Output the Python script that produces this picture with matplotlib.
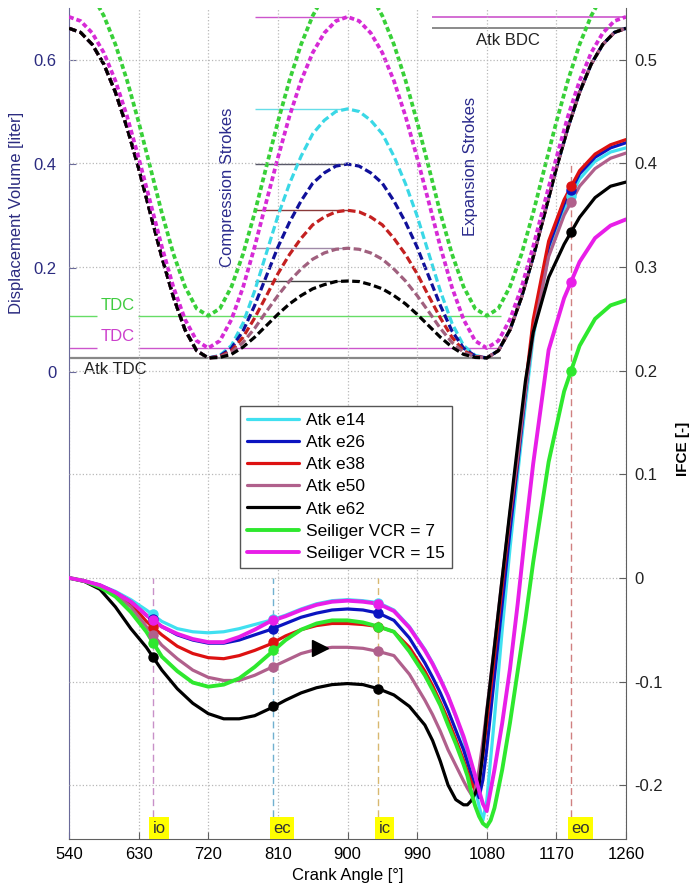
import matplotlib
matplotlib.use("Agg")
import matplotlib.pyplot as plt
from matplotlib.transforms import blended_transform_factory

plt.rcParams['font.family'] = ['Liberation Sans', 'DejaVu Sans']
plt.rcParams['axes.unicode_minus'] = False

# ---------------- displacement volume (left axis, liter) ----------------
vol_angle = [540, 555, 570, 585, 600, 615, 630, 645, 660, 675, 690, 705, 720,
             735, 750, 765, 780, 795, 810, 825, 840, 855, 870, 885, 900,
             915, 930, 945, 960, 975, 990, 1005, 1020, 1035, 1050, 1065, 1080,
             1095, 1110, 1125, 1140, 1155, 1170, 1185, 1200, 1215, 1230, 1245, 1260]
vol_atk_exhaust = [0.661, 0.653, 0.630, 0.592, 0.538, 0.470, 0.392, 0.306, 0.221, 0.144, 0.081, 0.041, 0.027]
vol_atk_expansion = [0.041, 0.081, 0.144, 0.221, 0.306, 0.392, 0.470, 0.538, 0.592, 0.630, 0.653, 0.661]
vol_e14_mid = [0.032, 0.051, 0.094, 0.156, 0.228, 0.300, 0.362, 0.415, 0.458, 0.484, 0.501, 0.506,
               0.501, 0.484, 0.458, 0.415, 0.362, 0.300, 0.228, 0.156, 0.094, 0.051, 0.032, 0.027]
vol_e26_mid = [0.031, 0.046, 0.079, 0.128, 0.184, 0.240, 0.288, 0.329, 0.363, 0.383, 0.396, 0.400,
               0.396, 0.383, 0.363, 0.329, 0.288, 0.240, 0.184, 0.128, 0.079, 0.046, 0.031, 0.027]
vol_e38_mid = [0.030, 0.041, 0.067, 0.104, 0.146, 0.189, 0.226, 0.257, 0.283, 0.298, 0.308, 0.311,
               0.308, 0.298, 0.283, 0.257, 0.226, 0.189, 0.146, 0.104, 0.067, 0.041, 0.030, 0.027]
vol_e50_mid = [0.029, 0.038, 0.057, 0.084, 0.116, 0.147, 0.175, 0.198, 0.217, 0.229, 0.236, 0.238,
               0.236, 0.229, 0.217, 0.198, 0.175, 0.147, 0.116, 0.084, 0.057, 0.038, 0.029, 0.027]
vol_e62_mid = [0.028, 0.034, 0.048, 0.067, 0.089, 0.111, 0.131, 0.147, 0.160, 0.168, 0.174, 0.175,
               0.174, 0.168, 0.160, 0.147, 0.131, 0.111, 0.089, 0.067, 0.048, 0.034, 0.028, 0.027]
vol_vcr7 = [0.756, 0.748, 0.725, 0.685, 0.630, 0.561, 0.481, 0.394, 0.306, 0.227, 0.164, 0.122, 0.108,
            0.122, 0.164, 0.227, 0.306, 0.394, 0.481, 0.561, 0.630, 0.685, 0.725, 0.748, 0.756,
            0.748, 0.725, 0.685, 0.630, 0.561, 0.481, 0.394, 0.306, 0.227, 0.164, 0.122, 0.108,
            0.122, 0.164, 0.227, 0.306, 0.394, 0.481, 0.561, 0.630, 0.685, 0.725, 0.748, 0.756]
vol_vcr15 = [0.683, 0.675, 0.652, 0.614, 0.560, 0.492, 0.412, 0.327, 0.241, 0.163, 0.101, 0.060, 0.046,
             0.060, 0.101, 0.163, 0.241, 0.327, 0.412, 0.492, 0.560, 0.614, 0.652, 0.675, 0.683,
             0.675, 0.652, 0.614, 0.560, 0.492, 0.412, 0.327, 0.241, 0.163, 0.101, 0.060, 0.046,
             0.060, 0.101, 0.163, 0.241, 0.327, 0.412, 0.492, 0.560, 0.614, 0.652, 0.675, 0.683]

peak_levels = [0.683, 0.506, 0.400, 0.311, 0.238, 0.175]
bdc_levels = [0.683, 0.661]
tdc_levels = [0.108, 0.046, 0.027]

# ---------------- IFCE (right axis) ----------------
ifce_angle = [540, 560, 580, 600, 620, 640, 660, 680, 700, 720, 740, 760, 780, 800, 820, 840,
              860, 880, 900, 920, 940, 960, 980, 1000, 1010, 1020, 1030, 1040, 1050,
              1055, 1060, 1065, 1070, 1075, 1080, 1085, 1090, 1100, 1110, 1120, 1130, 1140,
              1160, 1180, 1200, 1220, 1240, 1260]
ifce_e14 = [0, -0.003, -0.007, -0.013, -0.021, -0.031, -0.042, -0.049, -0.052, -0.053, -0.052, -0.049,
            -0.045, -0.041, -0.036, -0.030, -0.025, -0.022, -0.021, -0.022, -0.024, -0.031, -0.047, -0.069,
            -0.082, -0.097, -0.114, -0.134, -0.156,
            -0.170, -0.186, -0.203, -0.220, -0.234, -0.215, -0.175, -0.135,
            -0.050, 0.028, 0.100, 0.168, 0.232,
            0.312, 0.356, 0.385, 0.402, 0.411, 0.415]
ifce_e26 = [0, -0.003, -0.007, -0.014, -0.023, -0.036, -0.047, -0.055, -0.060, -0.063, -0.063, -0.060,
            -0.055, -0.050, -0.044, -0.038, -0.034, -0.031, -0.030, -0.031, -0.034, -0.041, -0.058, -0.082,
            -0.096, -0.111, -0.128, -0.147, -0.166,
            -0.178, -0.190, -0.202, -0.212, -0.195, -0.165, -0.130, -0.095,
            -0.025, 0.045, 0.110, 0.178, 0.243,
            0.320, 0.361, 0.390, 0.406, 0.415, 0.420]
ifce_e38 = [0, -0.003, -0.008, -0.015, -0.025, -0.042, -0.055, -0.066, -0.073, -0.077, -0.078, -0.075,
            -0.070, -0.064, -0.056, -0.050, -0.046, -0.044, -0.044, -0.045, -0.047, -0.052, -0.067, -0.090,
            -0.104, -0.120, -0.137, -0.156, -0.176,
            -0.187, -0.197, -0.205, -0.195, -0.170, -0.140, -0.108, -0.075,
            -0.008, 0.058, 0.115, 0.185, 0.249,
            0.325, 0.365, 0.393, 0.409, 0.418, 0.423]
ifce_e50 = [0, -0.003, -0.009, -0.016, -0.028, -0.047, -0.065, -0.078, -0.089, -0.096, -0.099, -0.099,
            -0.094, -0.087, -0.080, -0.073, -0.069, -0.067, -0.067, -0.068, -0.071, -0.075, -0.093, -0.118,
            -0.132, -0.148, -0.166, -0.181, -0.196,
            -0.203, -0.209, -0.205, -0.185, -0.158, -0.128, -0.097, -0.065,
            0.000, 0.062, 0.118, 0.180, 0.236,
            0.310, 0.350, 0.378, 0.395, 0.405, 0.410]
ifce_e62 = [0, -0.0035, -0.011, -0.028, -0.049, -0.067, -0.089, -0.107, -0.121, -0.131, -0.136, -0.136,
            -0.133, -0.126, -0.118, -0.111, -0.106, -0.103, -0.102, -0.103, -0.107, -0.113, -0.124, -0.142,
            -0.157, -0.177, -0.200, -0.214, -0.219,
            -0.219, -0.215, -0.208, -0.200, -0.168, -0.130, -0.098, -0.066,
            0.000, 0.065, 0.128, 0.190, 0.237,
            0.290, 0.322, 0.348, 0.367, 0.378, 0.382]
ifce_vcr7 = [0, -0.003, -0.009, -0.018, -0.033, -0.052, -0.076, -0.090, -0.101, -0.105, -0.103, -0.097,
             -0.086, -0.073, -0.060, -0.050, -0.044, -0.041, -0.041, -0.043, -0.047, -0.052, -0.071, -0.094,
             -0.108, -0.123, -0.142, -0.160, -0.180,
             -0.191, -0.207, -0.220, -0.230, -0.237, -0.240, -0.234, -0.222,
             -0.185, -0.140, -0.090, -0.040, 0.015,
             0.112, 0.180, 0.224, 0.250, 0.263, 0.268]
ifce_vcr15 = [0, -0.003, -0.007, -0.014, -0.023, -0.036, -0.047, -0.054, -0.059, -0.062, -0.062, -0.057,
              -0.050, -0.042, -0.037, -0.031, -0.026, -0.023, -0.022, -0.023, -0.025, -0.032, -0.048, -0.070,
              -0.083, -0.098, -0.114, -0.133, -0.153,
              -0.165, -0.178, -0.191, -0.205, -0.218, -0.225, -0.205, -0.185,
              -0.140, -0.088, -0.025, 0.045, 0.110,
              0.220, 0.270, 0.305, 0.328, 0.340, 0.346]

event_angle = [648, 804, 940, 1189]
event_label = ['io', 'ec', 'ic', 'eo']
event_top = [0.0, 0.0, 0.0, 0.40]
mk_e14 = [-0.035, -0.040, -0.024, 0.369]
mk_e26 = [-0.040, -0.049, -0.034, 0.374]
mk_e38 = [-0.047, -0.062, -0.047, 0.378]
mk_e50 = [-0.055, -0.086, -0.071, 0.363]
mk_e62 = [-0.076, -0.124, -0.107, 0.334]
mk_vcr7 = [-0.063, -0.070, -0.047, 0.200]
mk_vcr15 = [-0.041, -0.041, -0.025, 0.286]
arrow_angle = [865]
arrow_ifce = [-0.068]

series_names = ['Atk e14', 'Atk e26', 'Atk e38', 'Atk e50', 'Atk e62',
                'Seiliger VCR = 7', 'Seiliger VCR = 15']

# ---------------- figure ----------------
fig = plt.figure(figsize=(6.97, 8.88), dpi=100)
ax = fig.add_axes([69/697, 49/888, 557/697, 831/888])
ax2 = ax.twinx()
ax.set_xlim(540, 1260)
ax.set_ylim(-0.898, 0.700)
ax2.set_ylim(-0.252, 0.550)

dash_col = ['#3ad8e6', '#10109a', '#c42020', '#a0607e', '#000000', '#38d038', '#d62ad6']
sol_col = ['#40e0f0', '#0b14c0', '#dd1111', '#b0608c', '#000000', '#2ee82e', '#e81ee8']

vol_series = [vol_atk_exhaust + vol_e14_mid + vol_atk_expansion,
              vol_atk_exhaust + vol_e26_mid + vol_atk_expansion,
              vol_atk_exhaust + vol_e38_mid + vol_atk_expansion,
              vol_atk_exhaust + vol_e50_mid + vol_atk_expansion,
              vol_atk_exhaust + vol_e62_mid + vol_atk_expansion,
              vol_vcr7, vol_vcr15]

# reference lines
peak_cols = ['#cc55cc', '#66dde8', '#555566', '#8a3a3a', '#a08aa8', '#444444']
for lv, c in zip(peak_levels, peak_cols):
    ax.hlines(lv, 780, 900, colors=c, lw=1.0, zorder=1)
for lv, c in zip(bdc_levels, ['#cc55cc', '#777777']):
    ax.hlines(lv, 1009, 1260, colors=c, lw=1.2, zorder=1)
for lv, c in zip(tdc_levels[:2], ['#66dd66', '#cc55cc']):
    ax.hlines(lv, 540, 576, colors=c, lw=1.0, zorder=1)
    ax.hlines(lv, 629, 1099, colors=c, lw=1.0, zorder=1)
ax.hlines(tdc_levels[2], 540, 1099, colors='#888888', lw=1.6, zorder=1)

for i, (v, c) in enumerate(zip(vol_series, dash_col)):
    if i < 5:
        ax.plot(vol_angle, v, color=c, lw=2.3, dashes=(2.4, 1.1), zorder=3)
    else:
        ax.plot(vol_angle, v, color=c, lw=2.7, dashes=(1.3, 0.8), zorder=3)

ax.text(745, 0.356, 'Compression Strokes', rotation=90, ha='center', va='center',
        color='#2a2a8c', fontsize=12)
ax.text(1059, 0.396, 'Expansion Strokes', rotation=90, ha='center', va='center',
        color='#2a2a8c', fontsize=12)
ax.text(1107, 0.638, 'Atk BDC', ha='center', va='center', color='#222222', fontsize=12)
ax.text(603, 0.128, 'TDC', ha='center', va='center', color='#40cc40', fontsize=12)
ax.text(603, 0.068, 'TDC', ha='center', va='center', color='#cc40cc', fontsize=12)
ax.text(600, 0.004, 'Atk TDC', ha='center', va='center', color='#222222', fontsize=12)

# event lines
ev_col = ['#c890c8', '#70b0d0', '#d8b870', '#d08080']
tr = blended_transform_factory(ax2.transData, ax2.transAxes)
for a, top, lab, c in zip(event_angle, event_top, event_label, ev_col):
    ax2.vlines(a, -0.252, top, colors=c, lw=1.0, linestyles=(0, (5, 3)), zorder=1)
    ax2.text(a, 0.004, lab, transform=tr, ha='left', va='bottom', fontsize=12, color='#333333',
             bbox=dict(boxstyle='square,pad=0.2', fc='#ffff00', ec='none'), zorder=5)

ifce_series = [ifce_e14, ifce_e26, ifce_e38, ifce_e50, ifce_e62, ifce_vcr7, ifce_vcr15]
mk_series = [mk_e14, mk_e26, mk_e38, mk_e50, mk_e62, mk_vcr7, mk_vcr15]
handles = []
for i, (y, m, c, name) in enumerate(zip(ifce_series, mk_series, sol_col, series_names)):
    lw = 2.3 if i < 5 else 2.8
    h, = ax2.plot(ifce_angle, y, color=c, lw=lw, label=name, zorder=3,
                  solid_joinstyle='round', solid_capstyle='round')
    ax2.plot(event_angle, m, ls='none', marker='o', ms=6.5, mfc=c, mec=c, zorder=4)
    handles.append(h)
ax2.plot(arrow_angle, arrow_ifce, ls='none', marker='>', ms=12, color='k', zorder=6)

leg = ax2.legend(handles=handles, loc='upper left', bbox_to_anchor=(0.307, 0.521),
                 borderaxespad=0, fancybox=False, framealpha=1, edgecolor='#555555',
                 fontsize=12.5, handlelength=3.0, handletextpad=0.4, labelspacing=0.4,
                 borderpad=0.4)
leg.get_frame().set_linewidth(1.0)
leg.set_zorder(10)

# axes styling
for s in ['top', 'right']:
    ax.spines[s].set_visible(False)
for s in ['top', 'left', 'bottom']:
    ax2.spines[s].set_visible(False)
ax.spines['left'].set_color('#6a6a9a')
ax.spines['bottom'].set_color('#606060')
ax2.spines['right'].set_color('#606060')

ax.set_xticks([540, 630, 720, 810, 900, 990, 1080, 1170, 1260])
ax.set_yticks([0, 0.2, 0.4, 0.6])
ax.set_yticklabels(['0', '0.2', '0.4', '0.6'])
ax2.set_yticks([-0.2, -0.1, 0, 0.1, 0.2, 0.3, 0.4, 0.5])
ax2.set_yticklabels(['-0.2', '-0.1', '0', '0.1', '0.2', '0.3', '0.4', '0.5'])
ax.xaxis.set_ticks_position('bottom')
ax.tick_params(axis='x', direction='in', length=5, labelsize=12, color='#606060', pad=6)
ax.tick_params(axis='y', direction='in', length=5, labelsize=12, color='#6a6a9a',
               labelcolor='#2b2b80', pad=9)
ax2.tick_params(axis='y', direction='in', length=5, labelsize=12, color='#606060',
                labelcolor='#222222', pad=6)

ax.grid(axis='x', linestyle=':', color='#b8b8b8', lw=0.9)
ax2.grid(axis='y', linestyle=':', color='#b8b8b8', lw=0.9)
ax2.set_axisbelow(True)

ax.set_xlabel('Crank Angle [°]', fontsize=12)
ax.set_ylabel('Displacement Volume [liter]', fontsize=12, color='#2b2b80')
ax.yaxis.set_label_coords(-0.081, 0.753)
ax2.set_ylabel('IFCE [-]', fontsize=11, fontweight='bold')
ax2.yaxis.set_label_coords(1.09, 0.47)

fig.savefig('out.png', dpi=100)
